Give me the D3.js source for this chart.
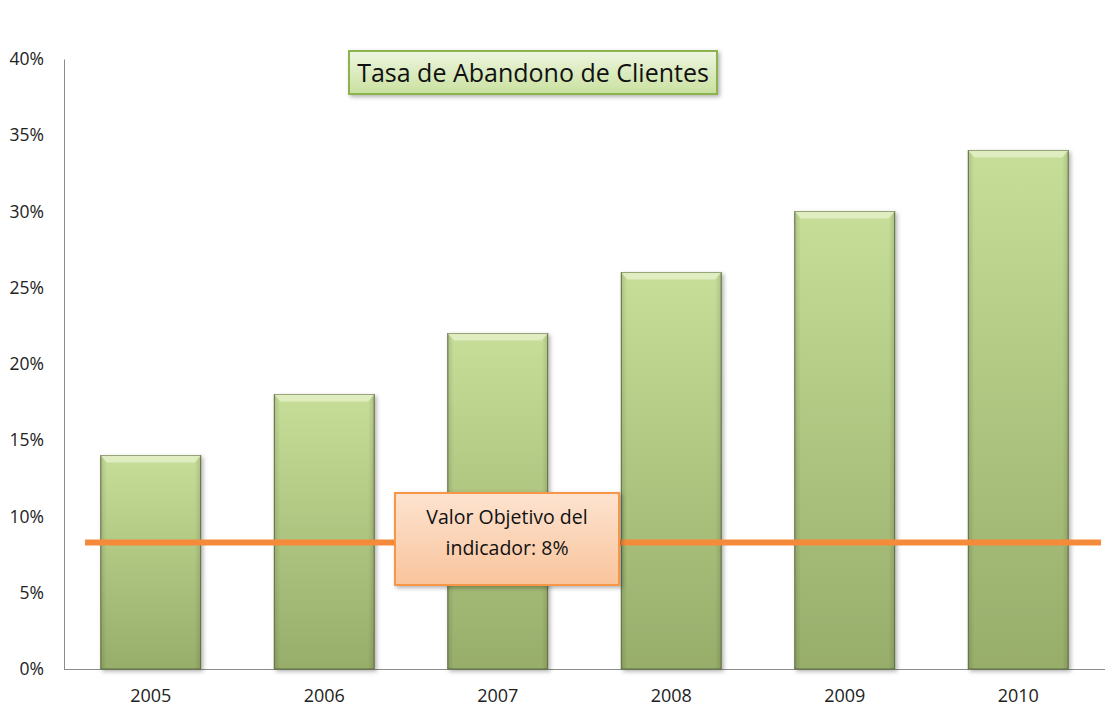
<!DOCTYPE html>
<html><head><meta charset="utf-8">
<script src="https://cdn.jsdelivr.net/npm/d3@7"></script>
<style>body{margin:0;background:#fff}svg{display:block}</style>
</head><body>
<svg id="chart" width="1120" height="716"></svg>
<script>
const years = ["2005","2006","2007","2008","2009","2010"];
const rates = [14, 18, 22, 26, 30, 34];
const yTicks = [0,5,10,15,20,25,30,35,40];
const targetValue = 8.3;
const titleText = "Tasa de Abandono de Clientes";
const targetLabel = ["Valor Objetivo del", "indicador: 8%"];

(function(){
const svg = d3.select("#chart");
const font = "'Open Sans', 'Noto Sans', sans-serif";
const mLeft = 64, mRight = 1105, mTop = 59, mBottom = 669;
const x = d3.scaleBand().domain(years).range([mLeft, mRight]).paddingInner(0.424).paddingOuter(0.212);
const y = d3.scaleLinear().domain([0, 40]).range([mBottom, mTop]);

const defs = svg.append("defs");
const bg = defs.append("linearGradient").attr("id","barGrad").attr("x1",0).attr("y1",0).attr("x2",0).attr("y2",1);
bg.append("stop").attr("offset",0).attr("stop-color","#c6de98");
bg.append("stop").attr("offset",1).attr("stop-color","#97ad6a");
const bh = defs.append("linearGradient").attr("id","barH").attr("x1",0).attr("y1",0).attr("x2",1).attr("y2",0);
bh.append("stop").attr("offset",0).attr("stop-color","#000").attr("stop-opacity",0.12);
bh.append("stop").attr("offset",0.06).attr("stop-color","#000").attr("stop-opacity",0);
bh.append("stop").attr("offset",0.94).attr("stop-color","#000").attr("stop-opacity",0);
bh.append("stop").attr("offset",1).attr("stop-color","#000").attr("stop-opacity",0.12);
const tg = defs.append("linearGradient").attr("id","titleGrad").attr("x1",0).attr("y1",0).attr("x2",0).attr("y2",1);
tg.append("stop").attr("offset",0).attr("stop-color","#eef6e0");
tg.append("stop").attr("offset",1).attr("stop-color","#c9e09f");
const lg = defs.append("linearGradient").attr("id","labGrad").attr("x1",0).attr("y1",0).attr("x2",0).attr("y2",1);
lg.append("stop").attr("offset",0).attr("stop-color","#fde3d0");
lg.append("stop").attr("offset",1).attr("stop-color","#f9c49c");
const sh = defs.append("filter").attr("id","shadow").attr("x","-10%").attr("y","-10%").attr("width","130%").attr("height","130%");
sh.append("feDropShadow").attr("dx",2).attr("dy",2).attr("stdDeviation",2).attr("flood-color","#000").attr("flood-opacity",0.3);
const glow = defs.append("filter").attr("id","glow").attr("x","-5%").attr("y","-200%").attr("width","110%").attr("height","500%");
glow.append("feGaussianBlur").attr("stdDeviation",2.5);

// axes
const yAxis = svg.append("g").attr("transform",`translate(${mLeft},0)`)
  .call(d3.axisLeft(y).tickValues(yTicks).tickSize(0).tickPadding(20).tickFormat(d => d + "%"));
yAxis.select(".domain").attr("stroke","#8c8c8c");
yAxis.selectAll("text").attr("font-family",font).attr("font-size",17.5).attr("fill","#222");

const xAxis = svg.append("g").attr("transform",`translate(0,${mBottom})`)
  .call(d3.axisBottom(x).tickSize(0).tickPadding(20));
xAxis.select(".domain").attr("stroke","#8c8c8c").attr("d",`M${mLeft},0.5H${mRight}`);
xAxis.selectAll("text").attr("font-family",font).attr("font-size",18).attr("fill","#222");

// bars
const bars = svg.append("g");
bars.selectAll("rect.bar").data(rates).join("rect").attr("class","bar")
  .attr("x",(d,i)=>x(years[i])).attr("y",d=>y(d))
  .attr("width",x.bandwidth()).attr("height",d=>y(0)-y(d))
  .attr("fill","url(#barGrad)").attr("stroke","#5f7040").attr("stroke-width",1)
  .attr("filter","url(#shadow)");
bars.selectAll("rect.side").data(rates).join("rect").attr("class","side")
  .attr("x",(d,i)=>x(years[i])).attr("y",d=>y(d))
  .attr("width",x.bandwidth()).attr("height",d=>y(0)-y(d))
  .attr("fill","url(#barH)");
bars.selectAll("path.bevel").data(rates).join("path").attr("class","bevel")
  .attr("d",(d,i)=>{const x0=x(years[i]),x1=x0+x.bandwidth(),t=y(d);
    return `M${x0},${t}H${x1}L${x1-6},${t+7}H${x0+6}Z`;})
  .attr("fill","#e4f0c8").attr("opacity",0.85);

// target line
const ty = y(targetValue);
svg.append("line").attr("x1",85).attr("x2",1101).attr("y1",ty).attr("y2",ty)
  .attr("stroke","#f59a50").attr("stroke-width",14).attr("opacity",0.55).attr("filter","url(#glow)");
svg.append("line").attr("x1",85).attr("x2",1101).attr("y1",ty).attr("y2",ty)
  .attr("stroke","#f58a3a").attr("stroke-width",6);

// target label box
const lb = svg.append("g");
lb.append("rect").attr("x",395).attr("y",493).attr("width",224).attr("height",92)
  .attr("fill","url(#labGrad)").attr("stroke","#f79646").attr("stroke-width",2).attr("filter","url(#shadow)");
lb.append("text").attr("x",507).attr("y",524).attr("text-anchor","middle")
  .attr("font-family",font).attr("font-size",19.5).attr("fill","#111").text(targetLabel[0]);
lb.append("text").attr("x",507).attr("y",555).attr("text-anchor","middle")
  .attr("font-family",font).attr("font-size",19.5).attr("fill","#111").text(targetLabel[1]);

// title box
const tb = svg.append("g");
tb.append("rect").attr("x",349).attr("y",51).attr("width",368).attr("height",43)
  .attr("fill","url(#titleGrad)").attr("stroke","#8db34f").attr("stroke-width",2).attr("filter","url(#shadow)");
tb.append("text").attr("x",533).attr("y",82).attr("text-anchor","middle")
  .attr("font-family",font).attr("font-size",25).attr("fill","#111").text(titleText);
})();
</script>
</body></html>
